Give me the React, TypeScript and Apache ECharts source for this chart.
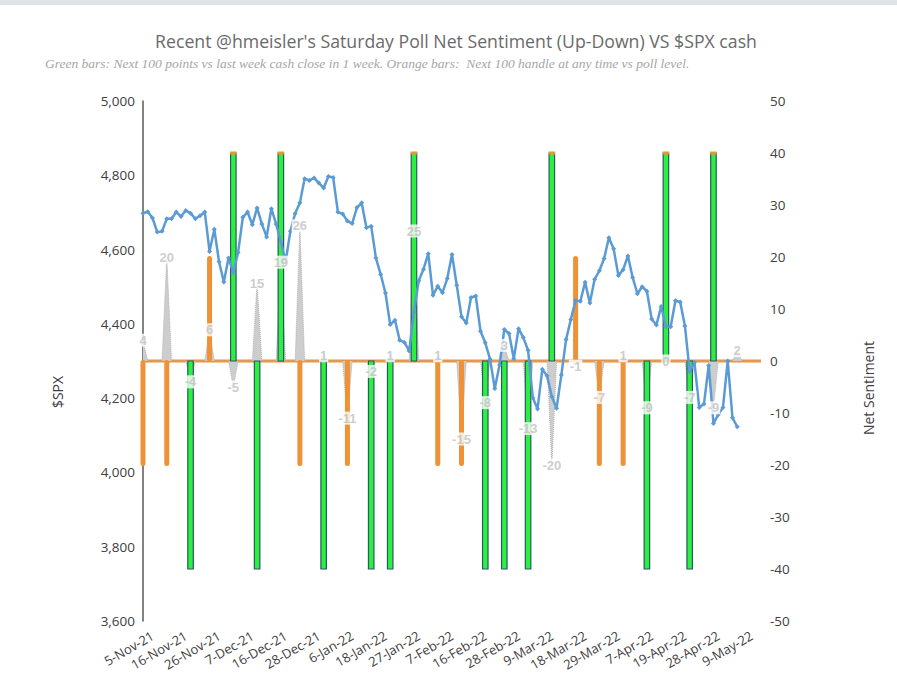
import React, { useEffect, useRef } from "react";
import * as echarts from "echarts";

// Trading-day categories (x axis)
const dates: string[] = [
  "5-Nov-21","8-Nov-21","9-Nov-21","10-Nov-21","11-Nov-21","12-Nov-21","15-Nov-21","16-Nov-21","17-Nov-21","18-Nov-21","19-Nov-21","22-Nov-21","23-Nov-21","24-Nov-21","26-Nov-21","29-Nov-21","30-Nov-21",
  "1-Dec-21","2-Dec-21","3-Dec-21","6-Dec-21","7-Dec-21","8-Dec-21","9-Dec-21","10-Dec-21","13-Dec-21","14-Dec-21","15-Dec-21","16-Dec-21","17-Dec-21","20-Dec-21","21-Dec-21","22-Dec-21","23-Dec-21","27-Dec-21","28-Dec-21","29-Dec-21","30-Dec-21","31-Dec-21",
  "3-Jan-22","4-Jan-22","5-Jan-22","6-Jan-22","7-Jan-22","10-Jan-22","11-Jan-22","12-Jan-22","13-Jan-22","14-Jan-22","18-Jan-22","19-Jan-22","20-Jan-22","21-Jan-22","24-Jan-22","25-Jan-22","26-Jan-22","27-Jan-22","28-Jan-22","31-Jan-22",
  "1-Feb-22","2-Feb-22","3-Feb-22","4-Feb-22","7-Feb-22","8-Feb-22","9-Feb-22","10-Feb-22","11-Feb-22","14-Feb-22","15-Feb-22","16-Feb-22","17-Feb-22","18-Feb-22","22-Feb-22","23-Feb-22","24-Feb-22","25-Feb-22","28-Feb-22",
  "1-Mar-22","2-Mar-22","3-Mar-22","4-Mar-22","7-Mar-22","8-Mar-22","9-Mar-22","10-Mar-22","11-Mar-22","14-Mar-22","15-Mar-22","16-Mar-22","17-Mar-22","18-Mar-22","21-Mar-22","22-Mar-22","23-Mar-22","24-Mar-22","25-Mar-22","28-Mar-22","29-Mar-22","30-Mar-22","31-Mar-22",
  "1-Apr-22","4-Apr-22","5-Apr-22","6-Apr-22","7-Apr-22","8-Apr-22","11-Apr-22","12-Apr-22","13-Apr-22","14-Apr-22","18-Apr-22","19-Apr-22","20-Apr-22","21-Apr-22","22-Apr-22","25-Apr-22","26-Apr-22","27-Apr-22","28-Apr-22","29-Apr-22",
  "2-May-22","3-May-22","4-May-22","5-May-22","6-May-22","9-May-22","10-May-22","11-May-22","12-May-22","13-May-22",
];

// $SPX cash close
const spx: number[] = [
  4698,4702,4685,4647,4649,4683,4683,4701,4689,4705,4698,4683,4691,4701,4595,4655,4567,
  4513,4577,4538,4592,4687,4701,4667,4712,4669,4634,4710,4669,4621,4568,4649,4697,4726,4791,4786,4793,4779,4766,
  4797,4794,4701,4696,4677,4670,4713,4726,4659,4663,4577,4533,4483,4398,4410,4356,4350,4327,4432,4516,
  4547,4589,4477,4501,4484,4522,4587,4504,4419,4402,4471,4475,4380,4349,4305,4226,4289,4385,4374,
  4306,4387,4363,4329,4201,4171,4278,4260,4204,4173,4262,4358,4412,4463,4461,4512,4456,4520,4543,4576,4632,4602,4530,
  4546,4583,4525,4481,4500,4488,4413,4397,4447,4393,4392,4462,4459,4394,4272,4296,4175,4184,4288,4132,
  4155,4175,4300,4147,4123,
];

// Weekly poll
const pollDates: string[] = [
  "5-Nov-21","12-Nov-21","19-Nov-21","26-Nov-21","3-Dec-21","10-Dec-21","17-Dec-21","23-Dec-21","31-Dec-21",
  "7-Jan-22","14-Jan-22","21-Jan-22","28-Jan-22","4-Feb-22","11-Feb-22","18-Feb-22","25-Feb-22",
  "4-Mar-22","11-Mar-22","18-Mar-22","25-Mar-22","1-Apr-22","8-Apr-22","14-Apr-22","22-Apr-22","29-Apr-22","6-May-22",
];
const netSentiment: number[] = [4,20,-4,6,-5,15,19,26,1,-11,-2,1,25,1,-15,-8,3,-13,-20,-1,-7,1,-9,0,-7,-9,2];
const greenBars: (number | null)[] = [null,null,-40,null,40,-40,40,null,-40,null,-40,-40,40,null,null,-40,-40,-40,40,null,null,null,-40,40,-40,40,null];
const orangeBars: (number | null)[] = [-20,-20,null,20,null,null,null,-20,null,-20,null,null,null,-20,-20,null,null,null,null,20,-20,-20,null,null,null,null,null];

const leftTicks = { min: 3600, max: 5000, interval: 200 };
const rightTicks = { min: -50, max: 50, interval: 10 };

const ORANGE = "#ef9136";
const GREEN = "#2cf03f";
const AXIS_TXT = "#404040";

export default function App() {
  const ref = useRef<HTMLDivElement>(null);
  useEffect(() => {
    if (!ref.current) return;
    const chart = echarts.init(ref.current, undefined, { renderer: "svg" });

    const pollIdx = pollDates.map((d) => dates.indexOf(d));
    const areaData = dates.map(() => 0);
    pollIdx.forEach((ix, i) => { areaData[ix] = netSentiment[i]; });
    const baseData = dates.map(() => 0);
    const barData: any[] = [];
    pollIdx.forEach((ix, i) => {
      if (greenBars[i] !== null) barData.push([ix, greenBars[i], 0]);
      if (orangeBars[i] !== null) barData.push([ix, orangeBars[i], 1]);
    });
    const labelData = pollIdx.map((ix, i) => [ix, netSentiment[i]]);

    const font = "'Open Sans', 'Noto Sans', sans-serif";

    chart.setOption({
      animation: false,
      backgroundColor: "#ffffff",
      grid: { left: 143, right: 136, top: 101, bottom: 65, containLabel: false },
      graphic: [
        { type: "rect", left: 0, top: 0, shape: { x: 0, y: 0, width: 897, height: 5 }, style: { fill: "#dfe3e8" } },
        {
          type: "text", x: 456, y: 41,
          style: { text: "Recent @hmeisler's Saturday Poll Net Sentiment (Up-Down) VS $SPX cash", fill: "#6a6a6a", font: "17.7px " + font, textAlign: "center", textVerticalAlign: "middle" },
        },
        {
          type: "text", x: 45, y: 63,
          style: { text: "Green bars: Next 100 points vs last week cash close in 1 week. Orange bars:  Next 100 handle at any time vs poll level.", fill: "#a6a6a6", font: "italic 13.5px 'Liberation Serif', 'DejaVu Serif', serif", textAlign: "left", textVerticalAlign: "middle" },
        },
        {
          type: "text", x: 57, y: 392, rotation: Math.PI / 2,
          style: { text: "$SPX", fill: AXIS_TXT, font: "14px " + font, textAlign: "center", textVerticalAlign: "middle" },
        },
        {
          type: "text", x: 868, y: 388, rotation: Math.PI / 2,
          style: { text: "Net Sentiment", fill: AXIS_TXT, font: "14px " + font, textAlign: "center", textVerticalAlign: "middle" },
        },
      ],
      xAxis: {
        type: "category",
        data: dates,
        boundaryGap: false,
        axisLine: { show: false },
        axisTick: { show: false },
        splitLine: { show: false },
        axisLabel: {
          interval: 6,
          rotate: 30,
          margin: 19,
          padding: [0, -11, 0, 0],
          color: AXIS_TXT,
          fontSize: 13,
          fontFamily: font,
        },
      },
      yAxis: [
        {
          type: "value",
          position: "left",
          min: leftTicks.min, max: leftTicks.max, interval: leftTicks.interval,
          axisLine: { show: true, lineStyle: { color: "#595959", width: 1.5 } },
          axisTick: { show: false },
          splitLine: { show: false },
          axisLabel: {
            margin: 8, color: AXIS_TXT, fontSize: 13.5, fontFamily: font,
            formatter: (v: number) => v.toLocaleString("en-US"),
          },
        },
        {
          type: "value",
          position: "right",
          min: rightTicks.min, max: rightTicks.max, interval: rightTicks.interval,
          axisLine: { show: false },
          axisTick: { show: false },
          splitLine: { show: false },
          axisLabel: { margin: 9, color: AXIS_TXT, fontSize: 13.5, fontFamily: font },
        },
      ],
      series: [
        {
          name: "base",
          type: "line",
          yAxisIndex: 1,
          data: baseData,
          symbol: "none",
          lineStyle: { color: ORANGE, width: 3 },
          z: 1,
        },
        {
          name: "Net Sentiment",
          type: "line",
          yAxisIndex: 1,
          data: areaData,
          symbol: "none",
          lineStyle: { color: "#b4b4b4", width: 1, type: "dotted" },
          areaStyle: { color: "#cdcdcd", opacity: 1 },
          z: 2,
        },
        {
          name: "bars",
          type: "custom",
          yAxisIndex: 1,
          data: barData,
          encode: { x: 0, y: 1 },
          z: 3,
          renderItem: (params: any, api: any) => {
            const ix = api.value(0);
            const v = api.value(1);
            const kind = api.value(2);
            const p = api.coord([ix, v]);
            const b = api.coord([ix, 0]);
            const y = Math.min(p[1], b[1]);
            const h = Math.abs(p[1] - b[1]);
            if (kind === 0) {
              const children: any[] = [
                { type: "rect", shape: { x: p[0] - 2.75, y, width: 5.5, height: h }, style: { fill: GREEN, stroke: "#2a5863", lineWidth: 1.2 } },
              ];
              if (v > 0) {
                children.push({ type: "rect", shape: { x: p[0] - 3.2, y: p[1] - 1.5, width: 6.4, height: 3 }, style: { fill: ORANGE } });
              }
              return { type: "group", children };
            }
            return { type: "rect", shape: { x: p[0] - 2.5, y: y - 1, width: 5, height: h + 2, r: 2.5 }, style: { fill: ORANGE } };
          },
        },
        {
          name: "$SPX",
          type: "line",
          yAxisIndex: 0,
          data: spx,
          symbol: "diamond",
          symbolSize: 5,
          showAllSymbol: true,
          itemStyle: { color: "#5b9bd5" },
          lineStyle: { color: "#5b9bd5", width: 2.5 },
          z: 4,
        },
        {
          name: "labels",
          type: "scatter",
          yAxisIndex: 1,
          data: labelData,
          symbol: "circle",
          symbolSize: 1,
          itemStyle: { color: "rgba(0,0,0,0)" },
          z: 10,
          label: {
            show: true,
            position: "inside",
            formatter: (p: any) => String(p.value[1]),
            color: "#bfbfbf",
            fontWeight: "bold",
            fontSize: 13,
            fontFamily: "'Liberation Sans', Arial, sans-serif",
            backgroundColor: "#ffffff",
            padding: [0, 1],
          },
        },
      ],
    });
    return () => chart.dispose();
  }, []);

  return (
    <div
      ref={ref}
      style={{ position: "fixed", left: 0, top: 0, width: 897, height: 686, background: "#fff" }}
    />
  );
}
